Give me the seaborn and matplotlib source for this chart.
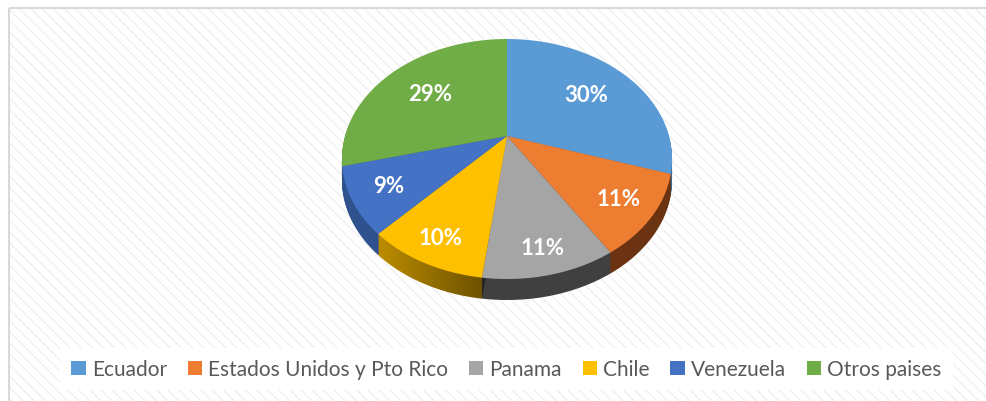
import numpy as np
import matplotlib
matplotlib.use('Agg')
import matplotlib.pyplot as plt
import seaborn as sns
from matplotlib.transforms import Transform, Affine2D, IdentityTransform
from matplotlib.path import Path
from matplotlib.patches import Rectangle, Patch
from matplotlib.colors import LinearSegmentedColormap

# ---- data ----
categories = ['Ecuador', 'Estados Unidos y Pto Rico', 'Panama', 'Chile', 'Venezuela', 'Otros paises']
shares = [30, 11, 11, 10, 9, 29]
top_colors = ['#5B9BD5', '#ED7D31', '#A5A5A5', '#FFC000', '#4472C4', '#70AD47']
side_colors = ['#3d6a94', '#6b3312', '#404040', '#b88a00', '#2f528f', '#4e7a31']

sns.set_theme(style='white')
plt.rcParams['font.family'] = ['Lato', 'DejaVu Sans']


class PerspectiveDisc(Transform):
    """Maps the unit pie disc onto a tilted, perspective-projected ellipse (pixel coords)."""
    input_dims = 2
    output_dims = 2
    is_separable = False
    has_inverse = False

    def __init__(self, cx, cy, a, b, p, dy=0.0):
        super().__init__()
        self.cx, self.cy, self.a, self.b, self.p, self.dy = cx, cy, a, b, p, dy

    def transform_non_affine(self, values):
        arr = np.asarray(values, dtype=float)
        one = arr.ndim == 1
        arr = arr.reshape(-1, 2)
        u = arr[:, 0]
        v = -arr[:, 1]
        s = 1.0 / (1.0 - self.p * v)
        out = np.column_stack([self.cx + self.a * u * s, self.cy + self.b * v * s + self.dy])
        return out[0] if one else out

    def transform_path_non_affine(self, path):
        k = 400.0
        polys = path.to_polygons(transform=Affine2D().scale(k), closed_only=True)
        paths = [Path(self.transform_non_affine(np.asarray(p) / k), closed=True)
                 for p in polys if len(p) > 2]
        if not paths:
            return path
        return Path.make_compound_path(*paths)


fig = plt.figure(figsize=(9.87, 4.02), dpi=100)
ax = fig.add_axes([0, 0, 1, 1])

CX, CY, A, B, P = 507, 137, 162, 115.6, 0.1917
DEPTH = 21

# background panel with faint diagonal texture and light frame
ax.add_patch(Rectangle((9, 9), 1100, 500, facecolor='white', edgecolor='#f0f0f0',
                       hatch='\\\\\\', linewidth=0, zorder=0))
ax.add_patch(Rectangle((9, 9), 1100, 500, fill=False, edgecolor='#d9d9d9',
                       linewidth=1.5, zorder=1))

# side (extrusion) layers
side_layers = []
for k in range(DEPTH, 0, -1):
    wedges, _ = ax.pie(shares, colors=side_colors, startangle=90, counterclock=False,
                       radius=1, wedgeprops=dict(linewidth=0))
    for w in wedges:
        w.set_transform(PerspectiveDisc(CX, CY, A, B, P, dy=k) + ax.transData)
        w.set_zorder(2)
    side_layers.append(wedges)

# top face
top_wedges, _, pct_texts = ax.pie(
    shares, colors=top_colors, startangle=90, counterclock=False, radius=1,
    autopct='%1.0f%%', pctdistance=0.74, wedgeprops=dict(linewidth=0),
    textprops=dict(color='white', fontsize=16, fontweight='bold'))
persp_top = PerspectiveDisc(CX, CY, A, B, P)
for w in top_wedges:
    w.set_transform(persp_top + ax.transData)
    w.set_zorder(4)
for t in pct_texts:
    x, y = t.get_position()
    r = np.hypot(x, y)
    v = -y / r
    f = (0.72 + 0.12 * v) / r
    t.set_position((x * f, y * f))
    t.set_transform(persp_top + ax.transData)
    t.set_zorder(5)

ax.set_xlim(0, 987)
ax.set_ylim(402, 0)
ax.set_aspect('auto')
ax.set_autoscale_on(False)
ax.axis('off')

# lighting gradient on the Chile side face
clip_paths = [wl[3].get_transform().transform_path(wl[3].get_path()) for wl in side_layers]
clip = Path.make_compound_path(*clip_paths)
grad = np.linspace(0, 1, 256)[None, :]
cmap = LinearSegmentedColormap.from_list('shade', [(0, 0, 0, 0.0), (0, 0, 0, 0.45)])
im = ax.imshow(grad, extent=(383, 492, 305, 225), cmap=cmap, aspect='auto',
               zorder=3, interpolation='bilinear')
im.set_clip_path(clip, IdentityTransform())
ax.set_xlim(0, 987)
ax.set_ylim(402, 0)

# legend
handles = [Patch(facecolor=c, linewidth=0) for c in top_colors]
leg = ax.legend(handles, categories, ncol=6, loc='center',
                bbox_to_anchor=(506.5 / 987, 1 - 370 / 402), bbox_transform=fig.transFigure,
                frameon=True, fontsize=15, handlelength=0.68, handleheight=0.68,
                handletextpad=0.3, columnspacing=1.0, borderpad=0.55, fancybox=False)
frame = leg.get_frame()
frame.set_facecolor('white')
frame.set_edgecolor('none')
frame.set_alpha(1)
for t in leg.get_texts():
    t.set_color('#595959')

fig.savefig('out.png', dpi=100, facecolor='white')
